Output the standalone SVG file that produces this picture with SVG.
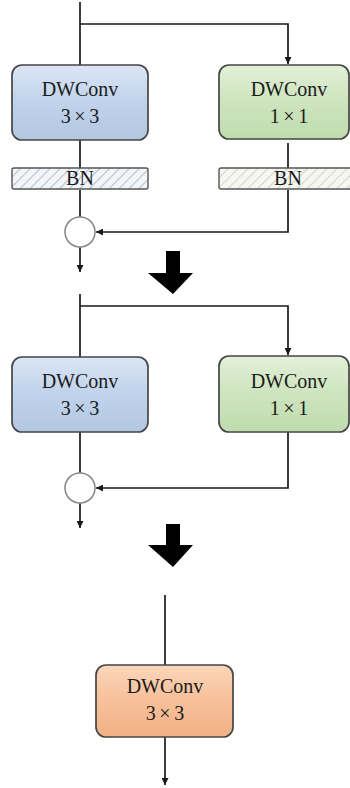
<svg xmlns="http://www.w3.org/2000/svg" width="350" height="788" viewBox="0 0 350 788">
  <style>
    .box { stroke: #454545; stroke-width: 1.7; }
    .bn { stroke: #555555; stroke-width: 1.4; }
    .lbl { font-family: "Liberation Serif", "Times New Roman", serif; font-size: 20px; fill: #1a1a1a; text-anchor: middle; }
    .dim { word-spacing: -1.5px; }
    .wire { fill: none; stroke: #1a1a1a; stroke-width: 1.7; }
    .add { fill: #ffffff; stroke: #8a8a8a; stroke-width: 1.6; }
    .bigarrow { fill: #000000; }
  </style>
  <defs>
    <linearGradient id="gBlue" x1="0" y1="0" x2="0" y2="1">
      <stop offset="0" stop-color="#dbe6f4"/>
      <stop offset="0.45" stop-color="#c2d4ec"/>
      <stop offset="1" stop-color="#b3c7e3"/>
    </linearGradient>
    <linearGradient id="gGreen" x1="0" y1="0" x2="0" y2="1">
      <stop offset="0" stop-color="#e2f0d8"/>
      <stop offset="0.45" stop-color="#cfe5c0"/>
      <stop offset="1" stop-color="#c0dcae"/>
    </linearGradient>
    <linearGradient id="gOrange" x1="0" y1="0" x2="0" y2="1">
      <stop offset="0" stop-color="#fbd6ba"/>
      <stop offset="0.45" stop-color="#f7c29c"/>
      <stop offset="1" stop-color="#f2b186"/>
    </linearGradient>
    <pattern id="hatchBlue" width="7" height="7" patternUnits="userSpaceOnUse" patternTransform="rotate(45)">
      <rect width="7" height="7" fill="#f4f5f8"/>
      <line x1="0" y1="0" x2="0" y2="7" stroke="#b4c0d4" stroke-width="2.2"/>
    </pattern>
    <pattern id="hatchGreen" width="7" height="7" patternUnits="userSpaceOnUse" patternTransform="rotate(45)">
      <rect width="7" height="7" fill="#f6f7f2"/>
      <line x1="0" y1="0" x2="0" y2="7" stroke="#d0d8c2" stroke-width="2.2"/>
    </pattern>
    <marker id="tip" viewBox="0 0 10 10" refX="10" refY="5" markerWidth="7" markerHeight="7" markerUnits="userSpaceOnUse" orient="auto">
      <path d="M0,0 L10,5 L0,10 z" fill="#1a1a1a"/>
    </marker>
  </defs>

  <!-- connectors -->
  <g id="connectors">
    <!-- stage 1 -->
    <path class="wire" d="M80,2 V65"/>
    <path class="wire" d="M80,24 H288 V64" marker-end="url(#tip)"/>
    <path class="wire" d="M80,140 V168"/>
    <path class="wire" d="M288,143 V168"/>
    <path class="wire" d="M80,190 V217"/>
    <path class="wire" d="M288,190 V232 H96" marker-end="url(#tip)"/>
    <path class="wire" d="M80,247 V272" marker-end="url(#tip)"/>
    <!-- stage 2 -->
    <path class="wire" d="M80,294 V357"/>
    <path class="wire" d="M80,306 H288 V355" marker-end="url(#tip)"/>
    <path class="wire" d="M80,432 V473"/>
    <path class="wire" d="M288,432 V488 H96" marker-end="url(#tip)"/>
    <path class="wire" d="M80,503 V528" marker-end="url(#tip)"/>
    <!-- stage 3 -->
    <path class="wire" d="M165,595 V665"/>
    <path class="wire" d="M165,737 V785" marker-end="url(#tip)"/>
  </g>

  <!-- transition arrows -->
  <g id="step-arrow-1">
    <path class="bigarrow" d="M166,251 H180 V273 H193 L173,294 L148,273 H166 Z"/>
  </g>
  <g id="step-arrow-2">
    <path class="bigarrow" d="M166,524 H180 V545 H193 L173,567 L148,545 H166 Z"/>
  </g>

  <!-- stage 1 nodes -->
  <g id="dwconv3-a">
    <rect class="box" x="12" y="65" width="136" height="75" rx="10" fill="url(#gBlue)"/>
    <text class="lbl" x="80" y="96">DWConv</text>
    <text class="lbl dim" x="80" y="123">3 × 3</text>
  </g>
  <g id="dwconv1-a">
    <rect class="box" x="219" y="65" width="130" height="74" rx="10" fill="url(#gGreen)"/>
    <text class="lbl" x="289" y="96">DWConv</text>
    <text class="lbl dim" x="289" y="123">1 × 1</text>
  </g>
  <g id="bn-left">
    <rect class="bn" x="12" y="168" width="136" height="21" rx="2" fill="url(#hatchBlue)"/>
    <text class="lbl" x="80" y="185">BN</text>
  </g>
  <g id="bn-right">
    <rect class="bn" x="219" y="168" width="134" height="21" rx="2" fill="url(#hatchGreen)"/>
    <text class="lbl" x="288" y="185">BN</text>
  </g>
  <g id="add-a">
    <circle class="add" cx="80" cy="232" r="15"/>
  </g>

  <!-- stage 2 nodes -->
  <g id="dwconv3-b">
    <rect class="box" x="12" y="357" width="136" height="75" rx="10" fill="url(#gBlue)"/>
    <text class="lbl" x="80" y="388">DWConv</text>
    <text class="lbl dim" x="80" y="415">3 × 3</text>
  </g>
  <g id="dwconv1-b">
    <rect class="box" x="219" y="356" width="130" height="76" rx="10" fill="url(#gGreen)"/>
    <text class="lbl" x="289" y="388">DWConv</text>
    <text class="lbl dim" x="289" y="415">1 × 1</text>
  </g>
  <g id="add-b">
    <circle class="add" cx="80" cy="488" r="15"/>
  </g>

  <!-- stage 3 node -->
  <g id="dwconv3-merged">
    <rect class="box" x="96" y="665" width="137" height="72" rx="10" fill="url(#gOrange)"/>
    <text class="lbl" x="165" y="693">DWConv</text>
    <text class="lbl dim" x="165" y="720">3 × 3</text>
  </g>
</svg>
